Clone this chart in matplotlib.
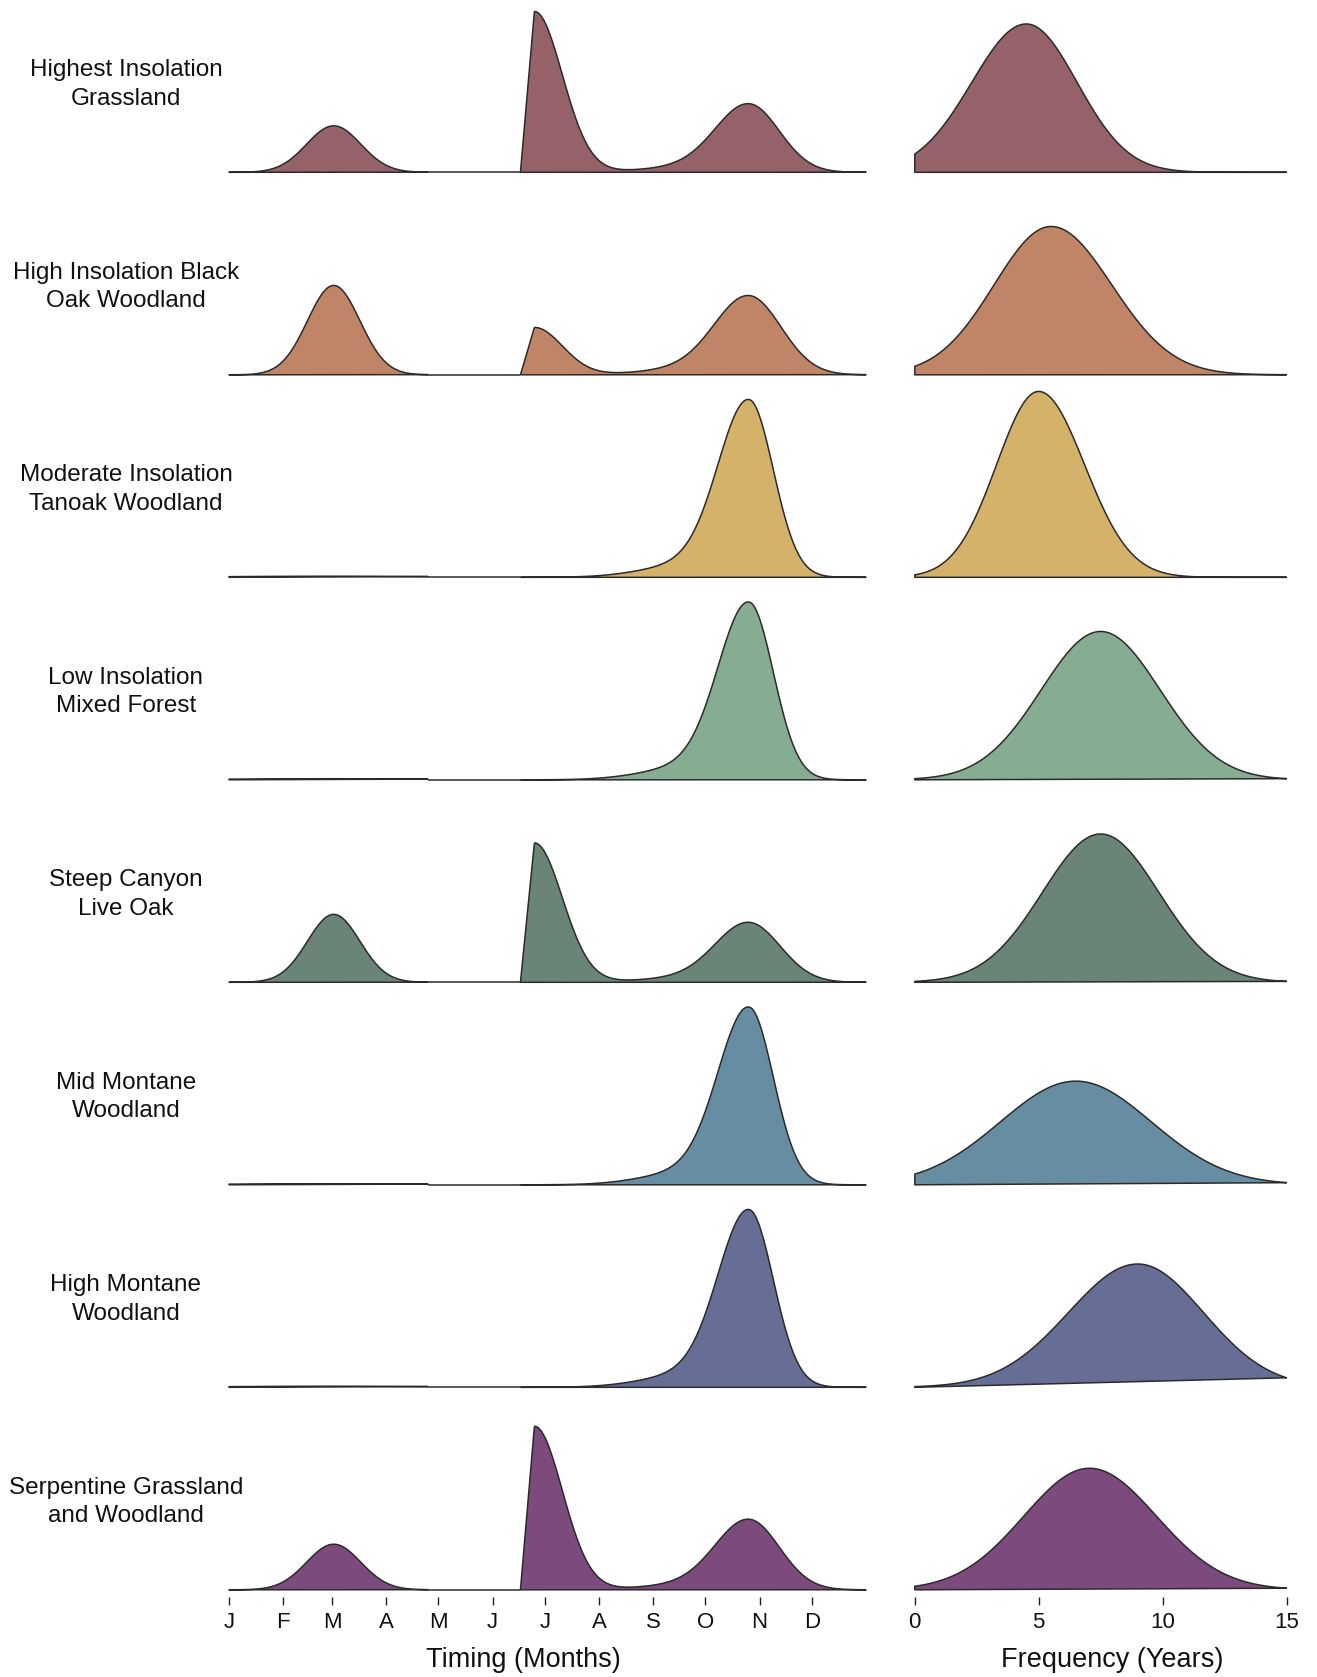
import numpy as np
import matplotlib.pyplot as plt

plt.rcParams['font.family'] = ['Liberation Sans', 'DejaVu Sans']

# vegetation zones, top to bottom
zones = [
    "Highest Insolation\nGrassland",
    "High Insolation Black\nOak Woodland",
    "Moderate Insolation\nTanoak Woodland",
    "Low Insolation\nMixed Forest",
    "Steep Canyon\nLive Oak",
    "Mid Montane\nWoodland",
    "High Montane\nWoodland",
    "Serpentine Grassland\nand Woodland",
]
zone_colors = ["#946268", "#C08566", "#D5B26A", "#86AC92",
               "#6A8576", "#678DA3", "#676E96", "#7C4A7C"]

# timing of burning, day of year (relative density, 1 = tallest ridge)
month_days = [1, 32, 60, 91, 121, 152, 182, 213, 244, 274, 305, 335]
month_labels = ["J", "F", "M", "A", "M", "J", "J", "A", "S", "O", "N", "D"]
spring_end = 115
summer_start = 168
year_end = 366

spring_day = [61, 61, 61, 61, 61, 61, 61, 61]
spring_height = [0.26, 0.50, 0.006, 0.006, 0.38, 0.006, 0.006, 0.255]
spring_sd = [15.5, 15.0, 60, 60, 15.0, 60, 60, 15.5]

summer_day = [176, 176, 176, 176, 176, 176, 176, 176]
summer_height = [0.90, 0.265, 0.0, 0.0, 0.78, 0.0, 0.0, 0.915]
summer_sd = 16.0

fall_day = [299, 299, 299, 299, 299, 299, 299, 299]
fall_height = [0.372, 0.43, 0.965, 0.965, 0.325, 0.965, 0.965, 0.383]
fall_sd_left = [19, 19.5, 17.5, 17.5, 19, 17.5, 17.5, 19]
fall_sd_right = [17.5, 18.5, 14.0, 14.0, 18.0, 14.0, 14.0, 17.5]
shoulder_day = 265
shoulder_sd = 26.0
shoulder_height = [0.028, 0.032, 0.07, 0.07, 0.025, 0.07, 0.07, 0.028]

# fire return interval, years
freq_mode = [4.5, 5.5, 5.0, 7.5, 7.5, 6.5, 9.0, 7.05]
freq_height = [0.83, 0.83, 1.04, 0.83, 0.83, 0.58, 0.69, 0.68]
freq_sd_left = [2.2, 2.3, 1.7, 2.4, 2.35, 3.05, 2.8, 2.65]
freq_sd_right = [2.05, 2.45, 1.85, 2.4, 2.35, 3.05, 2.65, 2.7]
freq_ticks = [0, 5, 10, 15]

EDGE = "#2b2b2b"
FIG_W, FIG_H = 1317, 1677
UNIT_PX = 178.7          # pixels per density unit
ROW_STEP = 202.5
FIRST_BASE = 172.3
PAD_BELOW = 7
ROW_H = 200


def bump(x, mu, h, sl, sr):
    sd = np.where(x < mu, sl, sr)
    return h * np.exp(-0.5 * ((x - mu) / sd) ** 2)


def spike(x, start, mu, h, sd):
    # steep rise from the start of the window, gaussian decay after the peak
    y = h * np.exp(-0.5 * ((x - mu) / sd) ** 2)
    up = x < mu
    y[up] = h * (x[up] - start) / (mu - start)
    return y


def ridge(ax, x, y, color):
    xs = np.r_[x, x[0]]
    ys = np.r_[y, 0.0]
    ax.fill(xs, ys, facecolor=color, edgecolor=EDGE, lw=1.1,
            joinstyle="round", clip_on=False)


def make_ax(left_px, right_px, base_px):
    bottom = FIG_H - base_px - PAD_BELOW
    ax = fig.add_axes([left_px / FIG_W, bottom / FIG_H,
                       (right_px - left_px) / FIG_W, ROW_H / FIG_H])
    ax.set_ylim(-PAD_BELOW / UNIT_PX, (ROW_H - PAD_BELOW) / UNIT_PX)
    for s in ax.spines.values():
        s.set_visible(False)
    ax.set_yticks([])
    ax.set_xticks([])
    return ax


fig = plt.figure(figsize=(FIG_W / 100, FIG_H / 100), dpi=100)
fig.patch.set_facecolor("white")

n = len(zones)
for i in range(n):
    base = FIRST_BASE + i * ROW_STEP
    c = zone_colors[i]

    fig.text(126 / FIG_W, 1 - (base - 88) / FIG_H, zones[i], ha="center",
             va="center", fontsize=17.5, linespacing=1.38, color="#111111")

    # timing panel: spring, quiet early summer, summer-fall
    axl = make_ax(229, 866, base)
    axl.set_xlim(1, year_end)
    xs = np.linspace(1, spring_end, 300)
    ridge(axl, xs, bump(xs, spring_day[i], spring_height[i],
                        spring_sd[i], spring_sd[i]), c)
    ridge(axl, np.array([spring_end, summer_start]), np.zeros(2), c)
    xs = np.linspace(summer_start, year_end, 800)
    ys = (spike(xs, summer_start, summer_day[i], summer_height[i], summer_sd)
          + bump(xs, fall_day[i], fall_height[i], fall_sd_left[i], fall_sd_right[i])
          + bump(xs, shoulder_day, shoulder_height[i], shoulder_sd, shoulder_sd))
    ys[0] = 0.0
    ridge(axl, xs, ys, c)

    # frequency panel
    axr = make_ax(914.8, 1286.5, base)
    axr.set_xlim(0, 15)
    xs = np.linspace(0, 15, 400)
    ridge(axr, xs, bump(xs, freq_mode[i], freq_height[i],
                        freq_sd_left[i], freq_sd_right[i]), c)

    if i == n - 1:
        for ax, ticks, labels in ((axl, month_days, month_labels),
                                  (axr, freq_ticks, [str(t) for t in freq_ticks])):
            ax.set_xticks(ticks)
            ax.set_xticklabels(labels)
            ax.tick_params(axis="x", length=5.8, width=1.0, pad=5.0,
                           labelsize=16, color="#222222", labelcolor="#111111")
        axl.set_xlabel("Timing (Months)", fontsize=19.5, color="#111111")
        axl.xaxis.set_label_coords(0.4615, -0.25)
        axr.set_xlabel("Frequency (Years)", fontsize=19.5, color="#111111")
        axr.xaxis.set_label_coords(0.53, -0.25)

fig.savefig("out.png", dpi=100, facecolor="white")
